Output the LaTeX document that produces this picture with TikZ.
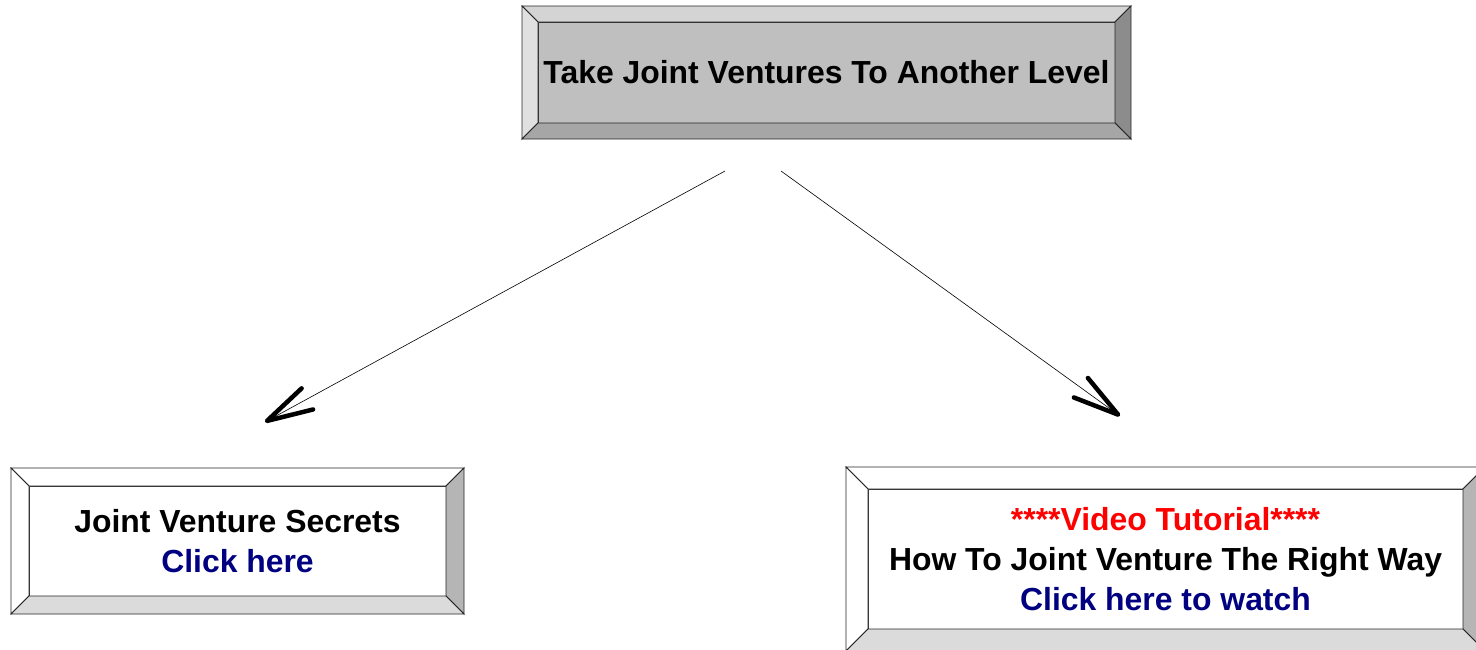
\documentclass[tikz,border=0pt]{standalone}
\usepackage{fontspec}
\setmainfont{Liberation Sans}
\usetikzlibrary{calc,arrows.meta}

\definecolor{linkblue}{HTML}{000080}
\definecolor{alertred}{HTML}{FF0000}

\newcommand{\btxt}{\fontsize{31.9}{40}\selectfont\bfseries}

% node, depth, top, left, right, bottom
\newcommand{\bevel}[6]{%
  \path (#1.north west) coordinate (#1-a) (#1.north east) coordinate (#1-b)
        (#1.south east) coordinate (#1-c) (#1.south west) coordinate (#1-d);
  \filldraw[rim,fill=#3] (#1-a) -- ($(#1-a)+(-#2pt,#2pt)$) -- ($(#1-b)+(#2pt,#2pt)$) -- (#1-b) -- cycle;
  \filldraw[rim,fill=#4] (#1-a) -- ($(#1-a)+(-#2pt,#2pt)$) -- ($(#1-d)+(-#2pt,-#2pt)$) -- (#1-d) -- cycle;
  \filldraw[rim,fill=#5] (#1-b) -- ($(#1-b)+(#2pt,#2pt)$) -- ($(#1-c)+(#2pt,-#2pt)$) -- (#1-c) -- cycle;
  \filldraw[rim,fill=#6] (#1-d) -- ($(#1-d)+(-#2pt,-#2pt)$) -- ($(#1-c)+(#2pt,-#2pt)$) -- (#1-c) -- cycle;
}

\tikzset{
  rim/.style={draw=black!85, line width=0.9pt, line join=miter},
  face/.style={rim, outer sep=0pt, inner sep=0pt, align=center, font=\btxt},
  link/.style={line width=0.6pt, -{Straight Barb[round,length=46pt,width=24pt,line width'=4.5pt]}},
}

\begin{document}
\begin{tikzpicture}[x=1pt,y=-1pt]
    \useasboundingbox (0,0) rectangle (1476,649);
    \clip (0,0) rectangle (1476,649);

    \node[face, fill=black!25, minimum width=577pt, minimum height=101pt] (top) at (826.5,72.5)
        {Take Joint Ventures To Another Level};
    \bevel{top}{16}{black!17}{black!12}{black!45}{black!35}

    \node[face, fill=white, minimum width=417pt, minimum height=110pt] (secrets) at (237.5,541)
        {Joint Venture Secrets\\ \textcolor{linkblue}{Click here}};
    \bevel{secrets}{18}{white}{white}{black!29}{black!14}

    \node[face, fill=white, minimum width=595pt, minimum height=140pt] (video) at (1165.5,559)
        {\textcolor{alertred}{****Video Tutorial****}\\ How To Joint Venture The Right Way\\
         \textcolor{linkblue}{Click here to watch}};
    \bevel{video}{22}{white}{white}{black!29}{black!14}

    \coordinate (from-l) at (725,171);
    \coordinate (to-l) at (265,422);
    \coordinate (from-r) at (781,171);
    \coordinate (to-r) at (1120,416);
    \draw[link] (from-l) -- (to-l);
    \draw[link] (from-r) -- (to-r);
\end{tikzpicture}
\end{document}
